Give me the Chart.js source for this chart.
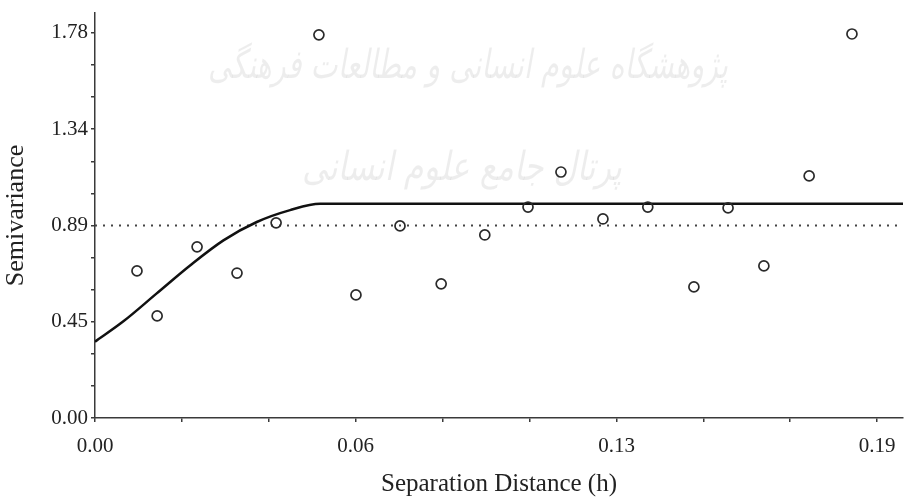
<!DOCTYPE html>
<html>
<head>
<meta charset="utf-8">
<script src="https://cdn.jsdelivr.net/npm/chart.js@4.4.1/dist/chart.umd.min.js"></script>
<style>
  html, body { margin: 0; padding: 0; background: #fff; }
  #wrap { width: 905px; height: 499px; position: relative; }
</style>
</head>
<body>
<div id="wrap"><canvas id="chart" width="905" height="499"></canvas></div>
<script>
// Experimental semivariogram points
const lagDistance = [0.0102, 0.0151, 0.0248, 0.0345, 0.0440, 0.0544, 0.0634, 0.0741, 0.0841, 0.0947,
                     0.1052, 0.1132, 0.1234, 0.1343, 0.1455, 0.1538, 0.1625, 0.1735, 0.1839];
const semivariance = [0.680, 0.472, 0.791, 0.670, 0.902, 1.771, 0.569, 0.888, 0.620, 0.846,
                      0.975, 1.137, 0.920, 0.975, 0.606, 0.971, 0.703, 1.119, 1.775];

// Fitted model curve
const modelLag = [0, 0.0069, 0.0150, 0.0231, 0.0312, 0.0393, 0.0474, 0.0547, 0.1963];
const modelValue = [0.353, 0.447, 0.576, 0.705, 0.821, 0.906, 0.961, 0.990, 0.990];

// Sample variance (dotted line)
const sampleVariance = 0.89;

// Axis ticks
const xMax = 0.1963;
const yMax = 1.872;
const xTicks = [0, 0.0211, 0.0422, 0.0633, 0.0844, 0.1056, 0.1267, 0.1478, 0.1689, 0.19];
const xTickLabels = ["0.00", "", "", "0.06", "", "", "0.13", "", "", "0.19"];
const yTicks = [0, 0.1483, 0.2967, 0.445, 0.5933, 0.7417, 0.89, 1.0383, 1.1867, 1.335, 1.4833, 1.6317, 1.78];
const yTickLabels = ["0.00", "", "", "0.45", "", "", "0.89", "", "", "1.34", "", "", "1.78"];

const watermarkLines = ["پژوهشگاه علوم انسانی و مطالعات فرهنگی", "پرتال جامع علوم انسانی"];

const axisColor = "#3a3a3a";
const serif = "'Liberation Serif', 'Times New Roman', serif";

const watermark = {
  id: "watermark",
  beforeDatasetsDraw(chart) {
    const ctx = chart.ctx;
    ctx.save();
    ctx.fillStyle = "rgba(0,0,0,0.07)";
    ctx.textAlign = "center";
    ctx.textBaseline = "middle";
    ctx.direction = "rtl";
    ctx.font = "italic 40px 'DejaVu Sans'";
    ctx.fillText(watermarkLines[0], 468, 68, 520);
    ctx.fillText(watermarkLines[1], 462, 170, 320);
    ctx.restore();
  }
};

const ctx = document.getElementById("chart").getContext("2d");
new Chart(ctx, {
  type: "scatter",
  data: {
    datasets: [
      {
        label: "Sample variance",
        type: "line",
        data: [{ x: 0, y: sampleVariance }, { x: xMax, y: sampleVariance }],
        borderColor: "#444",
        borderWidth: 2,
        borderDash: [2, 6],
        pointRadius: 0,
        order: 3
      },
      {
        label: "Model",
        type: "line",
        data: modelLag.map((h, i) => ({ x: h, y: modelValue[i] })),
        borderColor: "#111",
        borderWidth: 2.5,
        cubicInterpolationMode: "monotone",
        pointRadius: 0,
        order: 2
      },
      {
        label: "Semivariance",
        data: lagDistance.map((h, i) => ({ x: h, y: semivariance[i] })),
        pointStyle: "circle",
        pointRadius: 5,
        pointBorderWidth: 1.7,
        pointBorderColor: "#2a2a2a",
        pointBackgroundColor: "rgba(255,255,255,0)",
        order: 1
      }
    ]
  },
  options: {
    responsive: false,
    animation: false,
    layout: { autoPadding: false, padding: { top: 13, right: 2, left: 0, bottom: 0 } },
    plugins: {
      legend: { display: false },
      tooltip: { enabled: false }
    },
    scales: {
      x: {
        type: "linear",
        min: 0,
        max: xMax,
        afterBuildTicks: s => { s.ticks = xTicks.map(v => ({ value: v })); },
        afterFit: s => { s.height = 81; s.paddingLeft = 0; s.paddingRight = 0; },
        border: { display: true, color: axisColor, width: 1.5 },
        grid: { drawOnChartArea: false, drawTicks: true, tickLength: 4, color: axisColor, lineWidth: 1.5 },
        ticks: {
          autoSkip: false,
          maxRotation: 0,
          padding: 12,
          color: "#222",
          font: { family: serif, size: 21 },
          callback: (v, i) => xTickLabels[i]
        },
        title: {
          display: true,
          text: "Separation Distance (h)",
          color: "#222",
          font: { family: serif, size: 25 },
          padding: { top: 0, bottom: 0 }
        }
      },
      y: {
        type: "linear",
        min: 0,
        max: yMax,
        afterBuildTicks: s => { s.ticks = yTicks.map(v => ({ value: v })); },
        afterFit: s => { s.width = 95; s.paddingTop = 0; s.paddingBottom = 0; },
        border: { display: true, color: axisColor, width: 1.5 },
        grid: { drawOnChartArea: false, drawTicks: true, tickLength: 4, color: axisColor, lineWidth: 1.5 },
        ticks: {
          autoSkip: false,
          padding: 3,
          color: "#222",
          font: { family: serif, size: 21 },
          callback: (v, i) => yTickLabels[i]
        },
        title: {
          display: true,
          text: "Semivariance",
          color: "#222",
          font: { family: serif, size: 26 },
          padding: { top: 1, bottom: 0 }
        }
      }
    }
  },
  plugins: [watermark]
});
</script>
</body>
</html>
